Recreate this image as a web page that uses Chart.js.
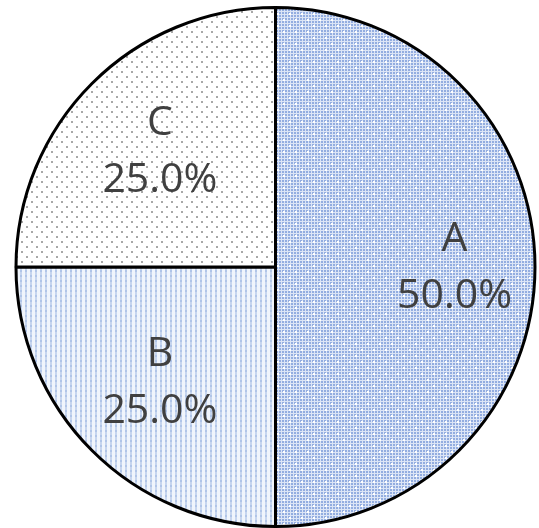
<!DOCTYPE html>
<html>
<head>
<meta charset="utf-8">
<script src="https://cdn.jsdelivr.net/npm/chart.js@4.4.0/dist/chart.umd.min.js"></script>
<style>
  html, body { margin: 0; padding: 0; background: #fff; }
  #wrap { width: 539px; height: 528px; position: relative; }
</style>
</head>
<body>
<div id="wrap"><canvas id="pieChart"></canvas></div>
<script>
const categories = ['A', 'B', 'C'];
const shares = [50, 25, 25];
const labelDist = [0.69, 0.63, 0.63];

function makeTile(size, draw) {
  const c = document.createElement('canvas');
  c.width = size; c.height = size;
  const g = c.getContext('2d');
  draw(g);
  return document.createElement('canvas').getContext('2d').createPattern(c, 'repeat');
}

// A: blue grid with white dots
const patA = makeTile(12, g => {
  g.fillStyle = '#dce5f6';
  g.fillRect(0, 0, 12, 12);
  g.fillStyle = '#93ade0';
  for (let x = 0; x < 12; x += 3) {
    for (let y = 0; y < 12; y += 3) g.fillRect(x, y, 2, 2);
  }
  g.fillStyle = '#ffffff';
  g.fillRect(1, 1, 2, 2);
  g.fillRect(7, 7, 2, 2);
});

// B: light vertical stripes
const patB = makeTile(5, g => {
  g.fillStyle = '#f0f5fc';
  g.fillRect(0, 0, 5, 5);
  g.fillStyle = '#b0c5e8';
  g.fillRect(0, 0, 2, 2);
  g.fillStyle = '#c6d5ee';
  g.fillRect(0, 2, 2, 3);
});

// C: white with sparse grey dots
const patC = makeTile(10, g => {
  g.fillStyle = '#ffffff';
  g.fillRect(0, 0, 10, 10);
  g.fillStyle = '#a8a8a8';
  g.fillRect(1, 1, 2, 2);
  g.fillRect(6, 6, 2, 2);
});

const sliceLabels = {
  id: 'sliceLabels',
  afterDatasetsDraw(chart) {
    const ctx = chart.ctx;
    const meta = chart.getDatasetMeta(0);
    const total = shares.reduce((a, b) => a + b, 0);
    ctx.save();
    ctx.fillStyle = '#404040';
    ctx.font = '41px "Open Sans"';
    ctx.textAlign = 'center';
    ctx.textBaseline = 'middle';
    meta.data.forEach((arc, i) => {
      const p = arc.getProps(['x', 'y', 'startAngle', 'endAngle', 'outerRadius']);
      const mid = (p.startAngle + p.endAngle) / 2;
      const d = p.outerRadius * labelDist[i];
      const x = p.x + Math.cos(mid) * d;
      const y = p.y + Math.sin(mid) * d;
      ctx.fillText(categories[i], x, y - 28);
      ctx.fillText((shares[i] / total * 100).toFixed(1) + '%', x, y + 29);
    });
    ctx.restore();
  }
};

new Chart(document.getElementById('pieChart'), {
  type: 'pie',
  data: {
    labels: categories,
    datasets: [{
      data: shares,
      backgroundColor: [patA, patB, patC],
      borderColor: '#000000',
      borderWidth: 3
    }]
  },
  options: {
    responsive: true,
    maintainAspectRatio: false,
    animation: false,
    layout: { padding: { left: 14, right: 2, top: 6, bottom: 0 } },
    plugins: {
      legend: { display: false },
      tooltip: { enabled: false }
    }
  },
  plugins: [sliceLabels]
});
</script>
</body>
</html>
